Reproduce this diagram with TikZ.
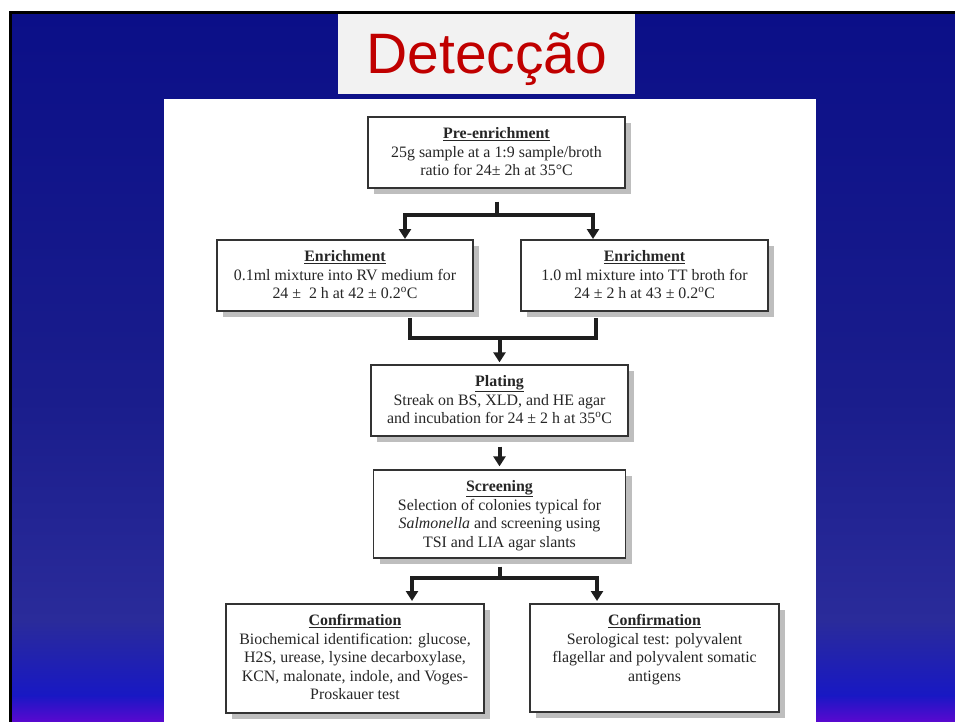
\documentclass[tikz,border=0pt]{standalone}
\usepackage{fontspec}
\setmainfont{Liberation Serif}
\newfontfamily\titlefont{Liberation Sans}
\usetikzlibrary{arrows.meta,shadows,calc}
\definecolor{bgA}{HTML}{0B0F88}
\definecolor{bgB}{HTML}{1A1D8C}
\definecolor{bgC}{HTML}{2A2B9A}
\definecolor{bgD}{HTML}{1818C4}
\definecolor{bgE}{HTML}{5A08D0}
\definecolor{titlebg}{HTML}{F2F2F2}
\definecolor{titlered}{HTML}{C00000}
\definecolor{shadowgray}{HTML}{BEBEBE}
\definecolor{boxline}{HTML}{333333}
\definecolor{linecol}{HTML}{1E1E1E}
\definecolor{txtcol}{HTML}{262626}
\begin{document}
\begin{tikzpicture}[x=1pt,y=-1pt,
  boxst/.style={draw=boxline, line width=1.3pt, fill=white, rectangle, inner sep=0pt,
    drop shadow={shadow xshift=6pt,shadow yshift=-6pt,fill=shadowgray,opacity=1}},
  txt/.style={anchor=north, align=center, inner sep=0pt, text=txtcol, font=\fontsize{15.9}{18.5}\selectfont},
  conn/.style={line width=4pt, draw=linecol},
  arr/.style={conn, -{Triangle[width=12pt,length=10pt]}},
]
\useasboundingbox (0,0) rectangle (955,722);
% background
\fill[top color=bgA,bottom color=bgB] (12,13) rectangle (955,401);
\fill[top color=bgB,bottom color=bgC] (12,400) rectangle (955,621);
\fill[top color=bgC,bottom color=bgD] (12,620) rectangle (955,696);
\fill[top color=bgD,bottom color=bgE] (12,695) rectangle (955,722);
\draw[line width=3pt,black] (10.5,722) -- (10.5,12.5) -- (955,12.5);
% title
\node[fill=titlebg, minimum width=297pt, minimum height=80pt, inner sep=0pt] (titlebox) at (486.5,54) {};
\node[anchor=base, inner sep=0pt, text=titlered, font=\titlefont\fontsize{57}{57}\selectfont] (title) at (487,73.3) {Detecção};
% panel
\node[fill=white, minimum width=652pt, minimum height=623pt, inner sep=0pt, anchor=north west] (panel) at (164,99) {};
% boxes
\node[boxst, minimum width=257pt, minimum height=71pt] (b1) at (496.5,152.5) {};
\node[boxst, minimum width=256pt, minimum height=71pt] (b2l) at (345,275.5) {};
\node[boxst, minimum width=247pt, minimum height=71pt] (b2r) at (644.5,275.5) {};
\node[boxst, minimum width=257pt, minimum height=71pt] (b3) at (499.5,400.5) {};
\node[boxst, minimum width=252pt, minimum height=88pt] (b4) at (499.5,514) {};
\node[boxst, minimum width=258pt, minimum height=109pt] (b5l) at (355,658.5) {};
\node[boxst, minimum width=249pt, minimum height=108pt] (b5r) at (654.5,658) {};
% texts
\node[txt] (t1) at ($(b1.north)+(0,11)$) {\underline{\textbf{Pre-enrichment}}\\25g sample at a 1:9 sample/broth\\ratio for 24± 2h at 35°C};
\node[txt] (t2l) at ($(b2l.north)+(0,11)$) {\underline{\textbf{Enrichment}}\\0.1ml mixture into RV medium for\\24 ±\ \ 2 h at 42 ± 0.2\textsuperscript{o}C};
\node[txt] (t2r) at ($(b2r.north)+(0,11)$) {\underline{\textbf{Enrichment}}\\1.0 ml mixture into TT broth for\\24 ± 2 h at 43 ± 0.2\textsuperscript{o}C};
\node[txt] (t3) at ($(b3.north)+(0,11)$) {\underline{\textbf{Plating}}\\Streak on BS, XLD, and HE agar\\and incubation for 24 ± 2 h at 35\textsuperscript{o}C};
\node[txt] (t4) at ($(b4.north)+(0,11)$) {\underline{\textbf{Screening}}\\Selection of colonies typical for\\\textit{Salmonella} and screening using\\TSI and LIA agar slants};
\node[txt] (t5l) at ($(b5l.north)+(0,11)$) {\underline{\textbf{Confirmation}}\\Biochemical identification: glucose,\\H2S, urease, lysine decarboxylase,\\KCN, malonate, indole, and Voges-\\Proskauer test};
\node[txt] (t5r) at ($(b5r.north)+(0,11)$) {\underline{\textbf{Confirmation}}\\Serological test: polyvalent\\flagellar and polyvalent somatic\\antigens};
% connectors
\coordinate (j1) at (497,215);
\coordinate (e1l) at (405,239);
\coordinate (e1r) at (593,239);
\draw[conn] ($(b1.south)+(0.5,13)$) -- (j1);
\draw[arr] (j1) -| (e1l);
\draw[arr] (j1) -| (e1r);
\coordinate (s2l) at (410,318);
\coordinate (s2r) at (596,318);
\coordinate (j2) at (499.5,338);
\draw[conn] (s2l) |- (s2r |- j2) -- (s2r);
\draw[arr, shorten >=2pt] (j2) -- (b3.north);
\draw[arr, shorten >=3pt] ($(b3.south)+(0,10)$) -- (b4.north);
\coordinate (j3) at (499.5,578);
\coordinate (e3l) at (412,601);
\coordinate (e3r) at (597,601);
\draw[conn] ($(b4.south)+(0,8)$) -- (j3);
\draw[arr] (j3) -| (e3l);
\draw[arr] (j3) -| (e3r);
\end{tikzpicture}
\end{document}
